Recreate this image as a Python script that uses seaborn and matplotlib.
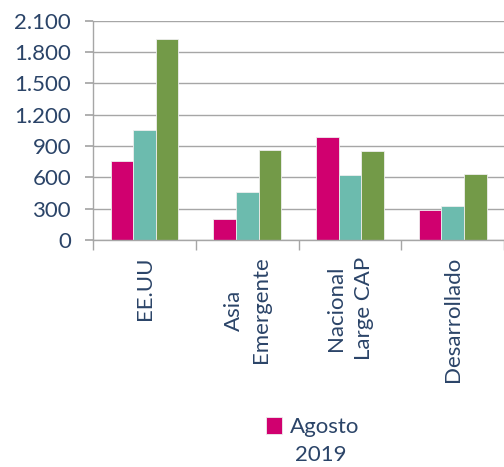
import matplotlib
matplotlib.use('Agg')

import matplotlib.pyplot as plt
import matplotlib.ticker as mticker
import pandas as pd
import seaborn as sns

# Datos
categorias = ['EE.UU', 'Asia\nEmergente', 'Nacional\nLarge CAP', 'Desarrollado']
series = ['Agosto 2019', 'Serie 2', 'Serie 3']
valores_s1 = [760, 198, 983, 290]
valores_s2 = [1055, 456, 619, 325]
valores_s3 = [1923, 864, 855, 632]
yticks = [0, 300, 600, 900, 1200, 1500, 1800, 2100]

colores = ['#D0006F', '#6CBBAE', '#739A48']
texto = '#2B4468'
gris = '#A6A6A6'

sns.set_theme(style='white')
plt.rcParams['font.family'] = ['Lato', 'DejaVu Sans']

df = pd.DataFrame({
    'categoria': categorias * 3,
    'serie': [series[0]] * 4 + [series[1]] * 4 + [series[2]] * 4,
    'valor': valores_s1 + valores_s2 + valores_s3,
})

fig = plt.figure(figsize=(5.04, 4.67), dpi=100)
ax = fig.add_axes([0.185, 0.486, 0.815, 0.47])

sns.barplot(data=df, x='categoria', y='valor', hue='serie', palette=colores,
            saturation=1, width=0.66, gap=0, edgecolor='#EEEEEE', linewidth=0.6,
            ax=ax, legend=True)

ax.set_xlim(-0.5, 3.5)
ax.set_ylim(0, 2100)
ax.set_yticks(yticks)
ax.yaxis.set_major_formatter(mticker.FuncFormatter(lambda v, p: f'{int(v):,}'.replace(',', '.')))
ax.grid(axis='y', color=gris, linewidth=1)
ax.set_axisbelow(True)
ax.set_xlabel('')
ax.set_ylabel('')

for lado in ['top', 'right']:
    ax.spines[lado].set_visible(False)
for lado in ['left', 'bottom']:
    ax.spines[lado].set_color(gris)
    ax.spines[lado].set_linewidth(1)

ax.tick_params(axis='y', left=True, length=6, color=gris, labelsize=16, labelcolor=texto, pad=10)
ax.tick_params(axis='x', which='major', length=0, labelsize=16, labelcolor=texto, pad=12)
ax.set_xticks([-0.5, 0.5, 1.5, 2.5, 3.5], minor=True)
ax.tick_params(axis='x', which='minor', bottom=True, length=7, color=gris)
for lbl in ax.get_xticklabels():
    lbl.set_rotation(90)
    lbl.set_ha('center')
    lbl.set_va('top')
    lbl.set_multialignment('center')
    lbl.set_linespacing(1.45)

# Leyenda: solo la primera serie, con el año en una segunda línea
handles, labels = ax.get_legend_handles_labels()
ax.legend(handles[:1], ['Agosto'], loc='center left', bbox_to_anchor=(0.527, 0.085),
          bbox_transform=fig.transFigure, frameon=False, fontsize=16,
          handlelength=0.75, handleheight=0.75, handletextpad=0.35,
          labelcolor=texto, borderaxespad=0, borderpad=0)
fig.text(0.637, 0.025, '2019', ha='center', va='center', fontsize=16, color=texto)

plt.savefig('out.png', dpi=100)
plt.close()
